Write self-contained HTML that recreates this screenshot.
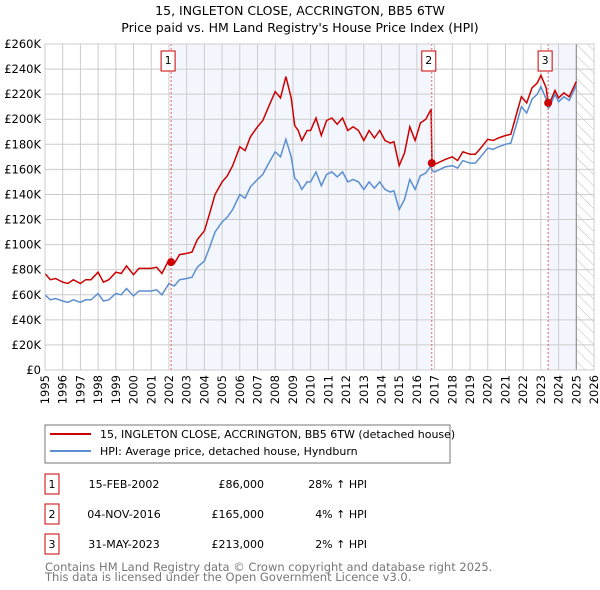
<!DOCTYPE html>
<html><head><meta charset="utf-8"><style>
body{margin:0;background:#fff;font-family:"Liberation Sans","DejaVu Sans",sans-serif;}
#wrap{position:relative;width:600px;height:590px;overflow:hidden;}
svg text{font-family:"DejaVu Sans","Liberation Sans",sans-serif;}
</style></head><body>
<div id="wrap">
<svg id="chart" width="600" height="590">
<defs><pattern id="hatch" width="8" height="8" patternUnits="userSpaceOnUse" patternTransform="rotate(-45)"><line x1="0" y1="0" x2="0" y2="8" stroke="#bbb" stroke-width="1"/></pattern></defs>
<text x="300" y="15" text-anchor="middle" font-size="12.5">15, INGLETON CLOSE, ACCRINGTON, BB5 6TW</text>
<text x="300" y="32" text-anchor="middle" font-size="12.5">Price paid vs. HM Land Registry's House Price Index (HPI)</text>
<g id="plot"></g>
<rect x="45" y="425" width="405" height="38" fill="#fff" stroke="#777"/>
<line x1="50" y1="434" x2="91" y2="434" stroke="#cc0000" stroke-width="2"/>
<text x="100" y="438" font-size="11">15, INGLETON CLOSE, ACCRINGTON, BB5 6TW (detached house)</text>
<line x1="50" y1="451" x2="91" y2="451" stroke="#5b8fd1" stroke-width="2"/>
<text x="100" y="455" font-size="11">HPI: Average price, detached house, Hyndburn</text>
<g id="table" font-size="11"></g>
<text x="45" y="571" font-size="11.5" fill="#777">Contains HM Land Registry data © Crown copyright and database right 2025.</text>
<text x="45" y="581" font-size="11.5" fill="#777">This data is licensed under the Open Government Licence v3.0.</text>
</svg></div>
<script>
const dates=[1995.0,1995.3,1995.6,1996.0,1996.3,1996.6,1997.0,1997.3,1997.6,1998.0,1998.3,1998.6,1999.0,1999.3,1999.6,2000.0,2000.3,2000.6,2001.0,2001.3,2001.6,2002.0,2002.3,2002.6,2003.0,2003.3,2003.6,2004.0,2004.3,2004.6,2005.0,2005.3,2005.6,2006.0,2006.3,2006.6,2007.0,2007.3,2007.6,2008.0,2008.3,2008.6,2008.9,2009.1,2009.3,2009.5,2009.8,2010.0,2010.3,2010.6,2010.9,2011.2,2011.5,2011.8,2012.1,2012.4,2012.7,2013.0,2013.3,2013.6,2013.9,2014.2,2014.5,2014.7,2015.0,2015.3,2015.6,2015.9,2016.2,2016.5,2016.8,2016.85,2017.0,2017.3,2017.6,2018.0,2018.3,2018.6,2019.0,2019.3,2019.6,2020.0,2020.3,2020.6,2021.0,2021.3,2021.6,2021.9,2022.2,2022.5,2022.8,2023.0,2023.3,2023.41,2023.5,2023.8,2024.0,2024.3,2024.6,2025.0];
const hpiValues=[60,56,57,55,54,56,54,56,56,61,55,56,61,60,65,59,63,63,63,64,60,69,67,72,73,74,82,87,98,110,118,122,128,140,137,146,152,156,164,174,170,184,170,153,150,144,150,150,158,147,156,158,154,158,150,152,150,144,150,145,150,144,142,143,128,136,152,144,155,157,163,159,158,160,162,163,161,167,165,165,170,177,176,178,180,181,195,210,205,216,220,226,216,209,210,220,214,218,215,227];
const propertyValues=[77,72,73,70,69,72,69,72,72,78,70,72,78,77,83,76,81,81,81,82,77,88,85,92,93,94,104,111,125,140,150,155,163,178,175,186,194,199,209,222,217,234,217,195,191,183,191,191,201,187,199,201,196,201,191,194,191,183,191,185,191,183,181,182,163,173,194,183,197,200,208,165,164,166,168,170,167,174,172,172,177,184,183,185,187,188,203,218,213,225,229,235,225,213,213,223,217,221,218,230];
const saleDates=[2002.12,2016.84,2023.41];
const saleValues=[86,165,213];
const saleLabels=["1","2","3"];
const saleDateText=["15-FEB-2002","04-NOV-2016","31-MAY-2023"];
const salePriceText=["£86,000","£165,000","£213,000"];
const saleHpiText=["28% ↑ HPI","4% ↑ HPI","2% ↑ HPI"];
const yTicks=[0,20,40,60,80,100,120,140,160,180,200,220,240,260];
const xTicks=[];for(let y=1995;y<=2026;y++)xTicks.push(y);

const X0=45,X1=594,Y0=370,Y1=44;
const xs=v=>X0+(v-1995)/31*(X1-X0);
const ys=v=>Y0-v/260*(Y0-Y1);
const NS="http://www.w3.org/2000/svg";
const plot=document.getElementById('plot');
function mk(tag,attrs,parent){const e=document.createElementNS(NS,tag);for(const k in attrs)e.setAttribute(k,attrs[k]);(parent||plot).appendChild(e);return e;}

let r;
r=mk('rect',{x:xs(saleDates[0]),y:Y1,width:xs(saleDates[1])-xs(saleDates[0]),height:Y0-Y1,fill:'#eef3fc',opacity:0.7});


r=mk('rect',{x:xs(saleDates[2]),y:Y1,width:xs(2025)-xs(saleDates[2]),height:Y0-Y1,fill:'#eef3fc',opacity:0.7});


r=mk('rect',{x:xs(2025),y:Y1,width:xs(2026)-xs(2025),height:Y0-Y1,fill:'url(#hatch)'});



xTicks.forEach(t=>{const l=mk('line',{x1:xs(t),x2:xs(t),y1:Y1,y2:Y0,stroke:'#ccc','stroke-width':1});


const tx=mk('text',{x:0,y:0,'font-size':11.5,'text-anchor':'end',transform:`translate(${xs(t)+4},375) rotate(-90)`});tx.textContent=t;

});
yTicks.forEach(t=>{const l=mk('line',{x1:X0,x2:X1,y1:ys(t),y2:ys(t),stroke:'#ccc','stroke-width':1});


const tx=mk('text',{x:41,y:ys(t)+4,'font-size':11.5,'text-anchor':'end'});tx.textContent='£'+(t===0?'0':t+'K');

});
r=mk('line',{x1:xs(2025),x2:xs(2025),y1:Y1,y2:Y0,stroke:'#888','stroke-width':1});



const path=vals=>vals.map((v,i)=>(i?'L':'M')+xs(dates[i]).toFixed(1)+','+ys(v).toFixed(1)).join('');
r=mk('path',{d:path(hpiValues),fill:'none',stroke:'#5b8fd1','stroke-width':1.5});


r=mk('path',{d:path(propertyValues),fill:'none',stroke:'#cc0000','stroke-width':1.5});



saleDates.forEach((d,i)=>{
 const l=mk('line',{x1:xs(d),x2:xs(d),y1:Y1,y2:Y0,stroke:'#e06060','stroke-width':1,'stroke-dasharray':'2,2'});
 
 
 const c=mk('circle',{cx:xs(d),cy:ys(saleValues[i]),r:4,fill:'#cc0000'});
 
 
 const b=mk('rect',{x:xs(d)-10,y:51,width:14,height:20,fill:'#fff',stroke:'#cc0000'});
 
 
 const t=mk('text',{x:xs(d)-3,y:64,'font-size':11,'text-anchor':'middle'});t.textContent=saleLabels[i];
 
 
});
r=mk('rect',{x:X0,y:Y1,width:X1-X0,height:Y0-Y1,fill:'none',stroke:'#ccc'});



const tb=document.getElementById('table');
saleLabels.forEach((s,i)=>{const y=487+i*30;
 const b=mk('rect',{x:45,y:y-13,width:14,height:20,fill:'#fff',stroke:'#cc0000'},tb);
 
 
 const cells=[[52,'middle',s],[124,'middle',saleDateText[i]],[264,'end',salePriceText[i]],[367,'end',saleHpiText[i]]];
 cells.forEach(c=>{const t=mk('text',{x:c[0],y:y+1,'text-anchor':c[1],'font-size':11},tb);t.textContent=c[2];
 
 });
});
</script></body></html>
